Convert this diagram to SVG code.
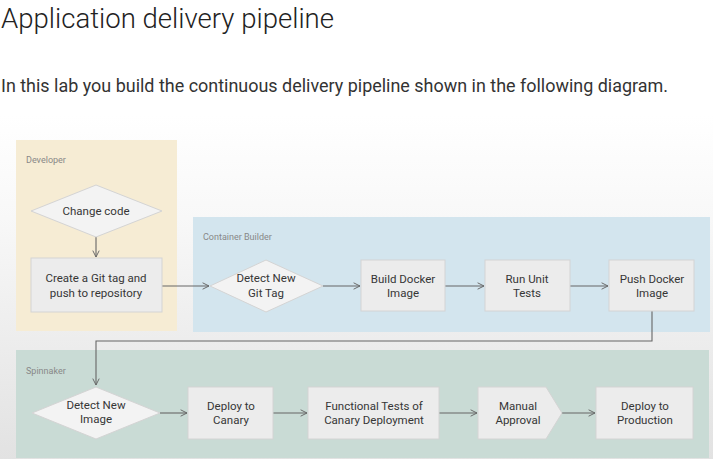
<svg xmlns="http://www.w3.org/2000/svg" width="713" height="459" viewBox="0 0 713 459">
<defs>
<linearGradient id="bg" x1="0" y1="0" x2="0" y2="1">
<stop offset="0" stop-color="#ffffff"/>
<stop offset="0.3" stop-color="#f8f8f8"/>
<stop offset="1" stop-color="#e2e2e2"/>
</linearGradient>
<marker id="arr" viewBox="0 0 10 10" refX="9" refY="5" markerWidth="8" markerHeight="8" markerUnits="userSpaceOnUse" orient="auto">
<path d="M1,1 L9,5 L1,9" fill="none" stroke="#666" stroke-width="1.2"/>
</marker>
<style>
.node{fill:#ececec;stroke:#d4d4d4;stroke-width:1}
.dia{fill:#f3f3f3;stroke:#d4d4d4;stroke-width:1}
.t{font-family:Roboto,"Liberation Sans",sans-serif;font-size:11.5px;fill:#363636;text-anchor:middle}
.lbl{font-family:Roboto,"Liberation Sans",sans-serif;font-size:9px;fill:#888}
.c{fill:none;stroke:#666;stroke-width:1.1}
</style>
</defs>
<rect x="0" y="0" width="713" height="459" fill="#ffffff"/>
<rect x="0" y="115" width="713" height="344" fill="url(#bg)"/>
<text x="1" y="28" font-family="Roboto,'Liberation Sans',sans-serif" font-weight="300" font-size="27" fill="#222" textLength="333" lengthAdjust="spacingAndGlyphs">Application delivery pipeline</text>
<text x="1" y="92" font-family="Roboto,'Liberation Sans',sans-serif" font-size="18" fill="#333" textLength="667" lengthAdjust="spacingAndGlyphs">In this lab you build the continuous delivery pipeline shown in the following diagram.</text>

<g id="developer">
<rect x="16" y="140" width="161" height="191" fill="#f6ecd4"/>
<text class="lbl" x="26" y="163">Developer</text>
</g>
<g id="container-builder">
<rect x="193" y="217" width="517" height="115" fill="#d3e5ee"/>
<text class="lbl" x="203" y="240">Container Builder</text>
</g>
<g id="spinnaker">
<rect x="16" y="350" width="693" height="108" fill="#c9dbd5"/>
<text class="lbl" x="26" y="374">Spinnaker</text>
</g>

<g id="connectors">
<line class="c" x1="96" y1="237" x2="96" y2="257" marker-end="url(#arr)"/>
<line class="c" x1="162" y1="286" x2="209" y2="286" marker-end="url(#arr)"/>
<line class="c" x1="323" y1="286" x2="360" y2="286" marker-end="url(#arr)"/>
<line class="c" x1="445" y1="286" x2="484" y2="286" marker-end="url(#arr)"/>
<line class="c" x1="570" y1="286" x2="608" y2="286" marker-end="url(#arr)"/>
<polyline class="c" points="652,311 652,341 96,341 96,385" marker-end="url(#arr)"/>
<line class="c" x1="160" y1="413" x2="187" y2="413" marker-end="url(#arr)"/>
<line class="c" x1="273" y1="413" x2="307" y2="413" marker-end="url(#arr)"/>
<line class="c" x1="439" y1="413" x2="477" y2="413" marker-end="url(#arr)"/>
<line class="c" x1="562" y1="413" x2="595" y2="413" marker-end="url(#arr)"/>
</g>

<g id="change-code">
<polygon class="dia" points="96,185 162,211 96,237 31,211"/>
<text class="t" x="96" y="215">Change code</text>
</g>
<g id="create-git-tag">
<rect class="node" x="31" y="258" width="131" height="54"/>
<text class="t" x="96" y="282">Create a Git tag and</text>
<text class="t" x="96" y="297">push to repository</text>
</g>
<g id="detect-git-tag">
<polygon class="dia" points="266,260 323,286 266,312 210,286"/>
<text class="t" x="266" y="282">Detect New</text>
<text class="t" x="266" y="297">Git Tag</text>
</g>
<g id="build-docker">
<rect class="node" x="361" y="260" width="84" height="51"/>
<text class="t" x="403" y="283">Build Docker</text>
<text class="t" x="403" y="297">Image</text>
</g>
<g id="run-unit-tests">
<rect class="node" x="485" y="260" width="85" height="51"/>
<text class="t" x="527" y="283">Run Unit</text>
<text class="t" x="527" y="297">Tests</text>
</g>
<g id="push-docker">
<rect class="node" x="609" y="260" width="85" height="51"/>
<text class="t" x="652" y="283">Push Docker</text>
<text class="t" x="652" y="297">Image</text>
</g>
<g id="detect-new-image">
<polygon class="dia" points="96,387 160,413 96,439 32,413"/>
<text class="t" x="96" y="409">Detect New</text>
<text class="t" x="96" y="423">Image</text>
</g>
<g id="deploy-canary">
<rect class="node" x="188" y="387" width="85" height="52"/>
<text class="t" x="231" y="410">Deploy to</text>
<text class="t" x="231" y="424">Canary</text>
</g>
<g id="functional-tests">
<rect class="node" x="308" y="387" width="131" height="52"/>
<text class="t" x="374" y="410">Functional Tests of</text>
<text class="t" x="374" y="424">Canary Deployment</text>
</g>
<g id="manual-approval">
<polygon class="node" points="478,387 546,387 562,413 546,439 478,439"/>
<text class="t" x="518" y="410">Manual</text>
<text class="t" x="518" y="424">Approval</text>
</g>
<g id="deploy-production">
<rect class="node" x="596" y="387" width="97" height="52"/>
<text class="t" x="645" y="410">Deploy to</text>
<text class="t" x="645" y="424">Production</text>
</g>
</svg>
